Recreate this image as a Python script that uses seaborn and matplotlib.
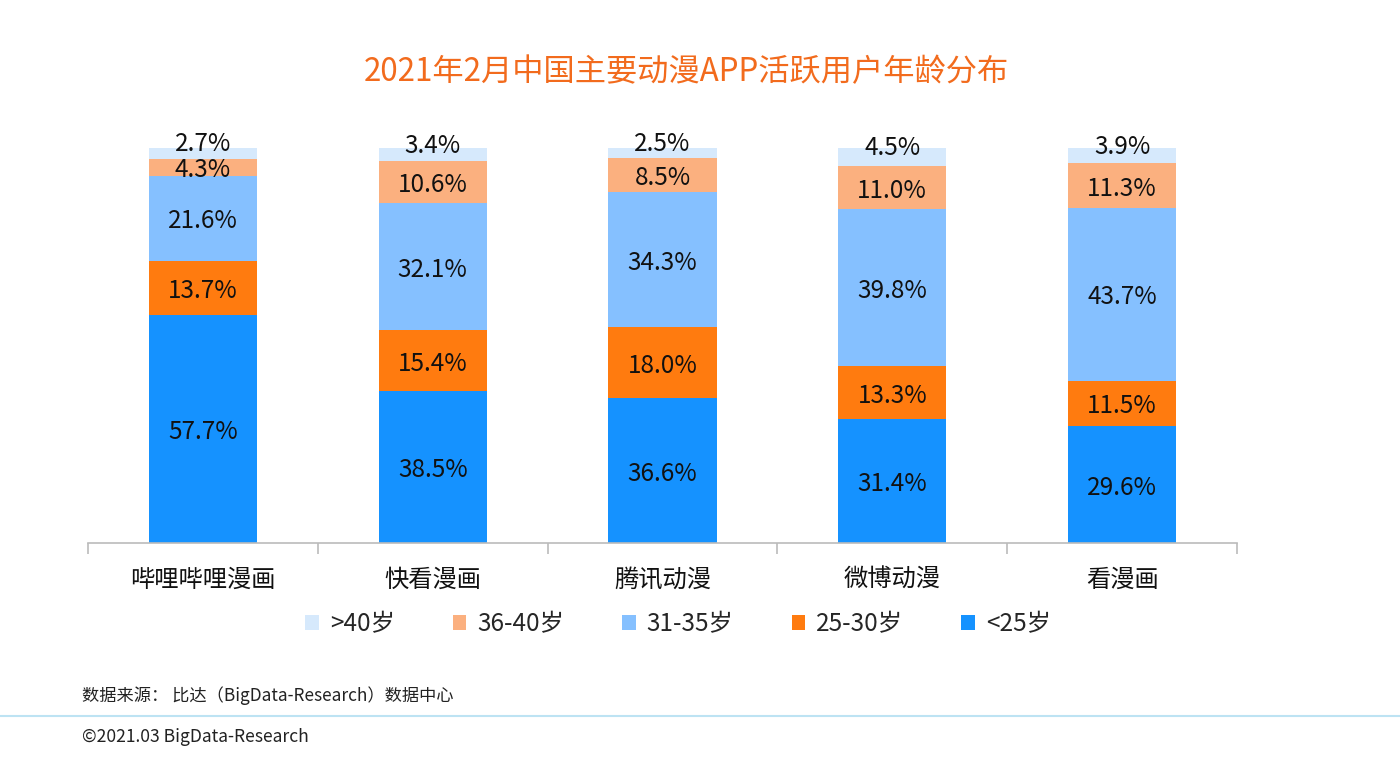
import numpy as np
import pandas as pd
import seaborn as sns
import matplotlib
matplotlib.use("Agg")
import matplotlib.pyplot as plt
from matplotlib.patches import Patch

apps = ["哔哩哔哩漫画", "快看漫画", "腾讯动漫", "微博动漫", "看漫画"]
series_names = ["<25岁", "25-30岁", "31-35岁", "36-40岁", ">40岁"]
under25 = [57.7, 38.5, 36.6, 31.4, 29.6]
age25_30 = [13.7, 15.4, 18.0, 13.3, 11.5]
age31_35 = [21.6, 32.1, 34.3, 39.8, 43.7]
age36_40 = [4.3, 10.6, 8.5, 11.0, 11.3]
over40 = [2.7, 3.4, 2.5, 4.5, 3.9]
colors = ["#1592FF", "#FF7B0F", "#85C0FF", "#FBB07F", "#D6E9FC"]

title = "2021年2月中国主要动漫APP活跃用户年龄分布"
source = "数据来源： 比达（BigData-Research）数据中心"
copyright_text = "©2021.03 BigData-Research"

sns.set_theme(style="white")
plt.rcParams["font.family"] = ["Noto Sans CJK SC", "DejaVu Sans"]

layers = [under25, age25_30, age31_35, age36_40, over40]
df = pd.DataFrame({"app": apps})
for name, vals in zip(series_names, layers):
    df[name] = vals

fig = plt.figure(figsize=(14, 7.6), dpi=100)
ax = fig.add_axes([88 / 1400, 1 - 543 / 760, (1237 - 88) / 1400, (543 - 148) / 760])

# draw cumulative totals from top layer down so stacks overlap correctly
cum = df[series_names].cumsum(axis=1)
for i in range(len(series_names) - 1, -1, -1):
    tmp = pd.DataFrame({"app": apps, "val": cum[series_names[i]].values})
    sns.barplot(data=tmp, x="app", y="val", color=colors[i], width=0.47,
                saturation=1, ax=ax, order=apps, linewidth=0)

# labels
for j in range(len(apps)):
    bottom = 0.0
    for i, name in enumerate(series_names):
        v = df.loc[j, name]
        yc = bottom + v / 2
        if i == len(series_names) - 1:
            yc = bottom + v / 2 + 3.0
        ax.text(j, yc, f"{v:.1f}%", ha="center", va="center_baseline", fontsize=17.5,
                color="#111111")
        bottom += v

ax.set_xlim(-0.5, len(apps) - 0.5)
ax.set_ylim(0, 100)
ax.set_xlabel("")
ax.set_ylabel("")
ax.set_yticks([])
for s in ["top", "right", "left"]:
    ax.spines[s].set_visible(False)
ax.spines["bottom"].set_color("#BBBBBB")
ax.spines["bottom"].set_linewidth(1.2)
ax.set_xticks(range(len(apps)))
ax.set_xticklabels(apps, fontsize=17.5, color="#111111")
ax.tick_params(axis="x", which="major", length=0, pad=17)
ax.set_xticks(np.arange(-0.5, len(apps), 1.0), minor=True)
ax.tick_params(axis="x", which="minor", length=8, width=1.2, color="#BBBBBB", bottom=True)

fig.text(686 / 1400, 1 - 72 / 760, title, ha="center", va="center",
         fontsize=22.5, color="#F26B1D")

handles = [Patch(facecolor=colors[i], edgecolor="none", label=series_names[i])
           for i in range(len(series_names) - 1, -1, -1)]
fig.legend(handles=handles, loc="center", bbox_to_anchor=(678 / 1400, 1 - 624 / 760),
           ncol=5, frameon=False, fontsize=17.5, handlelength=0.55, handleheight=0.55,
           handletextpad=0.45, columnspacing=2.4)

fig.text(82 / 1400, 1 - 696 / 760, source, ha="left", va="center", fontsize=12.4,
         color="#222222")
fig.add_artist(plt.Line2D([0, 1], [1 - 716 / 760, 1 - 716 / 760], color="#BDE3F3",
                          linewidth=1.5, transform=fig.transFigure))
fig.text(82 / 1400, 1 - 737 / 760, copyright_text, ha="left", va="center",
         fontsize=12.6, color="#222222")

fig.savefig("out.png", dpi=100)
